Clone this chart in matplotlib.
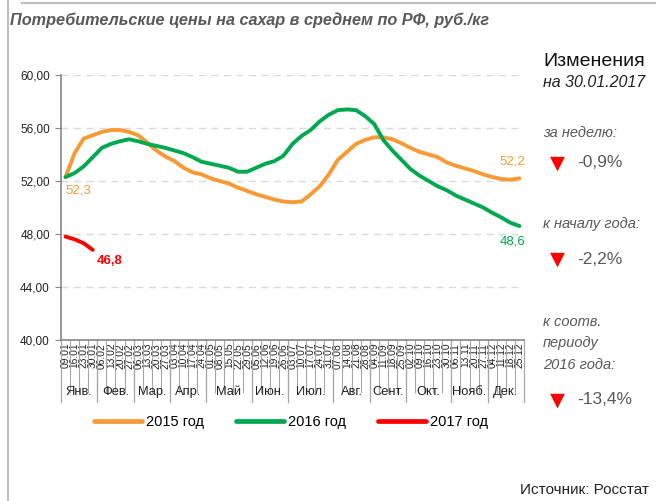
import matplotlib
matplotlib.use('Agg')
import matplotlib.pyplot as plt
from matplotlib.lines import Line2D

plt.rcParams['font.family'] = ['Liberation Sans', 'DejaVu Sans']

weeks = ['09.01', '16.01', '23.01', '30.01', '06.02', '13.02', '20.02', '27.02',
         '06.03', '13.03', '20.03', '27.03', '03.04', '10.04', '17.04', '24.04',
         '01.05', '08.05', '15.05', '22.05', '29.05', '05.06', '12.06', '19.06',
         '26.06', '03.07', '10.07', '17.07', '24.07', '31.07', '07.08', '14.08',
         '21.08', '28.08', '04.09', '11.09', '18.09', '25.09', '02.10', '09.10',
         '16.10', '23.10', '30.10', '06.11', '13.11', '20.11', '27.11', '04.12',
         '11.12', '18.12', '25.12']
months = ['Янв.', 'Фев.', 'Мар.', 'Апр.', 'Май', 'Июн.', 'Июл.', 'Авг.',
          'Сент.', 'Окт.', 'Нояб.', 'Дек.']
weeks_in_month = [4, 4, 4, 4, 5, 4, 5, 4, 4, 5, 4, 4]

y2015 = [52.3, 54.1, 55.2, 55.45, 55.7, 55.85, 55.85, 55.7, 55.45, 54.9,
         54.3, 53.85, 53.5, 53.0, 52.65, 52.5, 52.2, 52.0, 51.8, 51.5,
         51.25, 51.0, 50.8, 50.6, 50.45, 50.4, 50.45, 51.0, 51.6, 52.5,
         53.6, 54.2, 54.8, 55.1, 55.3, 55.3, 55.15, 54.85, 54.5, 54.2,
         54.0, 53.8, 53.4, 53.15, 52.95, 52.75, 52.5, 52.3, 52.15, 52.1, 52.2]
y2016 = [52.3, 52.6, 53.1, 53.8, 54.5, 54.8, 55.0, 55.15, 55.0, 54.8,
         54.65, 54.5, 54.3, 54.1, 53.8, 53.45, 53.3, 53.15, 53.0, 52.7,
         52.7, 53.0, 53.3, 53.5, 53.9, 54.8, 55.4, 55.85, 56.5, 57.0,
         57.35, 57.4, 57.35, 56.9, 56.3, 55.1, 54.3, 53.6, 52.9, 52.4,
         52.0, 51.6, 51.3, 50.9, 50.6, 50.3, 50.0, 49.6, 49.25, 48.85, 48.6]
y2017 = [47.8, 47.6, 47.3, 46.8]

c15 = '#F79A35'
c16 = '#00A94F'
c17 = '#FF0000'
grey = '#595959'

fig = plt.figure(figsize=(6.56, 5.01), dpi=100)
ax = fig.add_axes([61/656, 1-340/501, 463/656, 265/501])

ax.plot(range(len(y2015)), y2015, color=c15, lw=2.8, solid_capstyle='round')
ax.plot(range(len(y2016)), y2016, color=c16, lw=2.8, solid_capstyle='round')
ax.plot(range(len(y2017)), y2017, color=c17, lw=2.8, solid_capstyle='round')

ax.set_xlim(-0.5, len(weeks) - 0.5)
ax.set_ylim(40, 60)
ax.set_yticks([40, 44, 48, 52, 56, 60])
ax.set_yticklabels(['40,00', '44,00', '48,00', '52,00', '56,00', '60,00'],
                   fontsize=8.5, color='#222222')
ax.yaxis.grid(True, color='#D9D9D9', ls=(0, (5, 4)), lw=1)
ax.set_axisbelow(True)
for s in ['top', 'right']:
    ax.spines[s].set_visible(False)
for s in ['left', 'bottom']:
    ax.spines[s].set_color('#868686')
    ax.spines[s].set_linewidth(1.2)
ax.tick_params(axis='y', length=4, color='#868686', pad=4)

ax.set_xticks(range(len(weeks)))
ax.set_xticklabels(weeks, rotation=90, fontsize=7.4, color='#222222')
ax.tick_params(axis='x', length=0, pad=2)
ax.set_xticks([i + 0.5 for i in range(len(weeks) - 1)], minor=True)
ax.tick_params(axis='x', which='minor', length=38, color='#A6A6A6', width=0.8)

# month groups below week labels
trans = ax.get_xaxis_transform()
pos = -0.5
for m, n in zip(months, weeks_in_month):
    ax.plot([pos, pos], [0, -62/265], transform=trans, color='#A6A6A6',
            lw=0.9, clip_on=False)
    ax.text(pos + n / 2, -52/265, m, transform=trans, ha='center', va='center',
            fontsize=9.3, color='#222222')
    pos += n
ax.plot([pos, pos], [0, -62/265], transform=trans, color='#A6A6A6',
        lw=0.9, clip_on=False)

# data labels
ax.annotate('52,3', (0, y2015[0]), xytext=(0, -10), textcoords='offset points',
            ha='left', va='center', fontsize=9.5, color=c15)
ax.annotate('46,8', (3, y2017[3]), xytext=(3, -8), textcoords='offset points',
            ha='left', va='center', fontsize=9.5, color=c17, fontweight='bold')
ax.annotate('52,2', (50, y2015[50]), xytext=(-5, 12), textcoords='offset points',
            ha='center', va='center', fontsize=9.5, color=c15)
ax.annotate('48,6', (50, y2016[50]), xytext=(-5, -11), textcoords='offset points',
            ha='center', va='center', fontsize=9.5, color=c16)

# legend
handles = [Line2D([], [], color=c, lw=3.4, solid_capstyle='round')
           for c in (c15, c16, c17)]
fig.legend(handles, ['2015 год', '2016 год', '2017 год'], loc='center',
           bbox_to_anchor=(291/656, 1-422/501), ncol=3, frameon=False,
           fontsize=10.5, handlelength=3.3, columnspacing=2.2, handletextpad=0.25)

# title and frame
fig.text(10/656, 1-20/501, 'Потребительские цены на сахар в среднем по РФ, руб./кг',
         fontsize=11.7, fontweight='bold', style='italic', color=grey,
         ha='left', va='center')
fig.add_artist(Line2D([22/656, 1], [1-3/501, 1-3/501], color='#BFBFBF', lw=1.5))
fig.add_artist(Line2D([8/656, 8/656], [0, 1], color='#BFBFBF', lw=1.5))

# side panel
px = 543/656
fig.text(px, 1-61/501, 'Изменения', fontsize=14, color='#111111', va='center')
fig.text(px, 1-83/501, 'на 30.01.2017', fontsize=11.5, style='italic',
         color='#222222', va='center')
items = [(['за неделю:'], 133, 163, '-0,9%'),
         (['к началу года:'], 224, 259, '-2,2%'),
         (['к соотв.', 'периоду', '2016 года:'], 322, 400, '-13,4%')]
for lines, ty, vy, val in items:
    for k, ln in enumerate(lines):
        fig.text(px, 1-(ty + 21.5*k)/501, ln, fontsize=10.5, style='italic',
                 color=grey, va='center')
    fig.text(557/656, 1-vy/501, '\u25bc', fontsize=14, color=c17,
             ha='center', va='center', family='DejaVu Sans')
    fig.text(577/656, 1-vy/501, val, fontsize=12.5, color=grey, va='center')

fig.text(520/656, 1-490/501, 'Источник: Росстат', fontsize=11, color='#222222',
         va='center', ha='left')

fig.savefig('out.png', dpi=100)
